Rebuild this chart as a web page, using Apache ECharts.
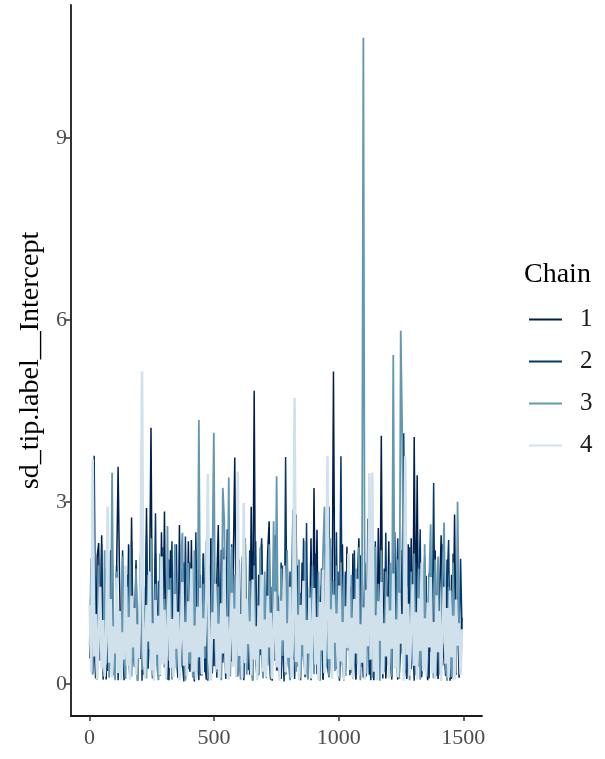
<!DOCTYPE html>
<html>
<head>
<meta charset="utf-8">
<script src="https://cdn.jsdelivr.net/npm/echarts@6/dist/echarts.min.js"></script>
<style>
  html, body { margin: 0; padding: 0; background: #ffffff; }
  #chart { width: 605px; height: 759px; }
</style>
</head>
<body>
<div id="chart"></div>
<script>
// Trace of sd_tip.label__Intercept, four chains, thinned to every 6th draw
const thin = 6;

const chain1 = [
  0.42, 1.9, 0.18, 0.65, 0.09, 2.1, 2.32, 0.55, 2.45, 0.31, 1.5, 0.07, 1.2, 0.46, 2.2, 0.12, 0.9, 0.38, 1.85, 3.58, 1.68, 0.22, 0.75, 0.06, 1.65,
  0.34, 2.3, 0.11, 2.74, 0.6, 0.28, 1.95, 0.05, 0.88, 0.41, 2.05, 0.15, 0.7, 2.9, 0.25, 1.6, 4.22, 0.48, 0.08, 2.15, 0.36, 0.81, 0.13, 2.5, 0.52,
  2.84, 0.3, 1.7, 0.06, 2.2, 0.58, 0.19, 1.8, 0.44, 0.1, 2.62, 0.73, 0.27, 2.0, 0.09, 0.66, 2.35, 0.2, 2.37, 0.5, 0.04, 1.75, 0.33, 2.1, 0.14,
  0.78, 2.15, 0.39, 0.07, 1.9, 0.56, 2.4, 0.17, 0.87, 0.29, 1.7, 2.62, 0.45, 0.1, 2.25, 0.62, 0.23, 2.55, 0.08, 0.8, 0.37, 1.95, 3.73, 0.51, 0.12,
  2.05, 0.43, 0.9, 0.06, 2.4, 0.32, 0.71, 0.15, 2.92, 0.64, 4.83, 0.35, 0.09, 1.8, 0.47, 2.3, 0.11, 0.83, 0.26, 2.15, 2.68, 0.54, 0.05, 1.65, 0.38,
  2.45, 0.21, 0.76, 0.08, 1.95, 0.49, 0.16, 2.2, 0.6, 0.1, 1.6, 0.4, 2.35, 2.79, 0.28, 0.7, 0.06, 2.0, 0.52, 0.14, 1.75, 0.33, 0.86, 2.4, 0.44,
  3.23, 0.72, 2.54, 0.19, 0.9, 1.63, 0.07, 0.58, 2.1, 0.3, 0.11, 2.25, 0.47, 5.15, 0.8, 0.24, 1.85, 0.05, 0.67, 2.3, 0.36, 0.13, 2.26, 0.55, 1.6,
  0.18, 2.15, 0.42, 0.07, 1.7, 2.4, 0.31, 0.69, 0.1, 2.0, 0.48, 1.55, 0.15, 2.3, 0.57, 0.06, 1.8, 0.4, 2.57, 0.83, 4.09, 0.26, 1.9, 0.09, 0.61,
  2.35, 0.34, 0.12, 1.6, 2.5, 0.45, 0.07, 1.9, 0.5, 2.2, 0.2, 0.74, 0.08, 2.3, 0.63, 2.4, 0.37, 4.07, 0.85, 3.44, 0.28, 1.75, 0.11, 0.79, 2.1,
  0.42, 0.06, 1.82, 0.53, 1.65, 0.17, 2.2, 0.39, 0.08, 1.5, 2.45, 0.3, 0.67, 0.13, 2.05, 0.46, 0.05, 1.8, 0.58, 2.79, 0.35, 1.6, 0.1, 0.72, 1.09
];

const chain2 = [
  0.85, 0.3, 2.0, 3.76, 0.52, 0.1, 1.75, 0.38, 2.3, 0.07, 0.74, 1.9, 0.21, 1.5, 0.45, 2.4, 0.14, 0.63, 1.95, 0.06, 0.81, 0.33, 2.2, 0.12, 0.69,
  1.8, 0.4, 0.08, 2.35, 0.55, 0.9, 2.04, 0.18, 0.72, 2.1, 0.05, 1.6, 0.47, 2.45, 0.26, 0.61, 1.85, 0.09, 0.83, 2.81, 0.36, 1.7, 0.15, 0.78, 2.25,
  0.27, 0.66, 0.07, 2.05, 0.49, 2.35, 0.2, 1.5, 2.3, 0.11, 0.57, 1.9, 0.32, 0.04, 2.43, 0.7, 0.24, 2.0, 0.5, 1.55, 0.13, 2.5, 0.41, 0.06, 1.8,
  0.59, 2.15, 0.19, 0.8, 0.05, 1.95, 0.44, 2.4, 0.29, 1.6, 0.1, 1.85, 0.53, 2.21, 0.35, 0.76, 0.08, 2.1, 0.62, 0.17, 2.3, 0.43, 1.5, 0.12, 1.95,
  0.38, 0.71, 1.99, 0.09, 1.75, 0.48, 0.23, 2.2, 0.67, 0.06, 1.55, 2.35, 0.31, 0.14, 1.9, 2.4, 0.56, 0.82, 0.1, 2.1, 0.42, 0.07, 1.6, 0.6, 2.45,
  0.22, 1.45, 0.13, 2.0, 0.51, 0.04, 3.74, 0.64, 0.27, 1.85, 0.39, 2.25, 0.08, 0.77, 1.95, 0.19, 1.5, 0.45, 2.4, 0.11, 2.65, 0.34, 0.73, 0.06, 1.8,
  0.5, 2.15, 0.16, 1.45, 0.3, 1.9, 0.07, 0.68, 2.3, 0.25, 2.92, 0.41, 0.1, 1.7, 0.58, 2.5, 0.2, 0.79, 3.75, 0.33, 0.05, 1.85, 0.62, 2.1, 0.14,
  1.5, 0.4, 2.2, 0.08, 0.75, 1.95, 2.12, 0.28, 0.55, 1.75, 0.12, 2.72, 0.46, 0.06, 2.05, 0.7, 2.35, 0.21, 1.55, 0.37, 1.9, 0.09, 0.65, 2.49, 0.31,
  1.8, 0.52, 0.07, 2.15, 0.35, 1.4, 2.4, 0.15, 0.6, 1.95, 4.13, 0.43, 0.1, 1.6, 2.25, 0.24, 0.71, 0.05, 2.0, 0.47, 1.45, 2.55, 0.18, 0.57, 1.7,
  1.78, 0.32, 0.09, 1.9, 0.66, 3.31, 0.4, 0.13, 2.05, 0.55, 0.06, 2.3, 0.8, 0.22, 1.65, 2.37, 0.36, 0.08, 2.15, 0.69, 0.15, 1.8, 0.44, 2.06, 0.87
];

const chain3 = [
  0.62, 2.07, 0.15, 1.7, 0.4, 0.07, 1.95, 0.53, 0.88, 0.2, 2.2, 0.32, 2.32, 0.1, 0.74, 3.48, 0.45, 0.06, 1.85, 0.6, 0.95, 0.17, 2.1, 0.36, 0.08,
  1.6, 0.49, 2.25, 0.12, 0.81, 0.29, 1.9, 0.05, 0.7, 2.15, 0.23, 0.92, 0.41, 0.09, 1.8, 0.57, 2.4, 0.14, 0.66, 1.65, 0.3, 0.06, 2.15, 0.42, 0.5,
  1.4, 0.18, 2.6, 0.38, 1.75, 0.07, 0.79, 2.3, 0.26, 0.97, 0.11, 1.95, 2.49, 0.44, 0.05, 1.7, 1.99, 0.33, 0.72, 0.1, 2.2, 0.56, 0.2, 4.35, 0.64,
  0.13, 1.65, 0.42, 2.35, 0.08, 0.89, 0.31, 1.9, 4.14, 0.6, 0.19, 1.6, 0.47, 0.06, 3.23, 2.7, 0.35, 0.82, 3.4, 0.12, 2.26, 0.54, 1.8, 0.25, 0.9,
  0.33, 0.07, 2.1, 0.39, 2.4, 0.15, 0.68, 1.7, 0.28, 0.05, 1.95, 0.61, 0.94, 0.17, 2.25, 0.43, 0.09, 1.85, 0.73, 0.3, 2.3, 0.11, 0.85, 2.68, 0.4,
  3.42, 0.58, 0.08, 1.9, 0.46, 1.5, 0.14, 2.2, 0.34, 0.06, 1.75, 2.87, 0.52, 0.2, 0.77, 2.05, 0.1, 0.93, 0.37, 2.35, 0.24, 0.07, 1.6, 0.63, 1.95,
  0.16, 0.87, 0.44, 1.85, 0.05, 0.7, 2.15, 2.92, 0.29, 0.96, 0.12, 2.4, 0.55, 1.7, 0.21, 1.95, 0.38, 0.08, 2.0, 0.67, 1.8, 0.13, 0.81, 1.95, 0.43,
  1.8, 0.09, 0.75, 1.9, 0.32, 2.25, 0.06, 0.91, 10.65, 0.48, 0.17, 1.75, 0.39, 2.1, 0.1, 0.84, 2.26, 0.27, 1.65, 0.05, 2.2, 0.53, 0.19, 1.85, 0.6,
  0.41, 2.0, 0.12, 5.42, 0.66, 0.3, 2.05, 0.08, 5.82, 4.1, 0.97, 0.22, 1.6, 0.5, 0.06, 1.85, 0.34, 2.15, 0.14, 0.78, 1.9, 0.07, 0.9, 0.45, 2.3,
  0.2, 0.72, 1.7, 2.63, 0.35, 0.09, 2.05, 0.57, 2.1, 0.15, 0.83, 1.9, 2.66, 0.28, 0.05, 1.6, 0.46, 0.11, 2.0, 0.62, 0.18, 3.0, 0.95, 0.4, 0.76
];

const chain4 = [
  1.3, 0.2, 3.7, 0.45, 1.15, 0.08, 0.9, 1.6, 0.25, 1.05, 0.12, 0.7, 2.92, 0.35, 1.4, 0.1, 0.95, 0.5, 1.75, 0.18, 1.2, 0.06, 0.85, 0.4, 1.95,
  0.3, 1.1, 0.07, 1.45, 0.6, 1.25, 0.15, 0.98, 0.42, 1.62, 5.15, 0.55, 0.09, 1.3, 0.7, 1.85, 0.22, 1.0, 0.05, 1.38, 0.48, 1.12, 0.14, 2.1, 0.33,
  1.22, 0.08, 0.92, 1.55, 0.26, 1.07, 0.11, 1.48, 0.58, 1.19, 0.06, 0.8, 1.68, 0.3, 1.02, 0.13, 1.36, 0.52, 1.9, 0.2, 0.96, 0.07, 1.27, 0.44, 1.58,
  0.16, 1.08, 0.62, 1.42, 3.46, 0.38, 0.05, 1.18, 0.74, 1.65, 0.24, 0.99, 0.1, 1.33, 0.5, 2.05, 0.17, 1.11, 0.07, 0.88, 1.5, 0.28, 1.24, 0.12, 3.5,
  0.46, 1.15, 0.09, 2.98, 0.34, 1.4, 0.66, 1.03, 0.14, 1.72, 0.4, 0.95, 0.06, 1.29, 0.57, 1.8, 0.2, 1.06, 0.11, 1.45, 0.6, 1.17, 0.08, 0.9, 1.52,
  0.27, 1.2, 0.05, 1.37, 0.72, 1.95, 0.19, 1.0, 0.43, 1.6, 0.1, 0.85, 4.71, 0.36, 1.14, 0.07, 1.3, 0.64, 1.7, 0.15, 1.05, 0.5, 1.42, 0.09, 0.97,
  1.58, 0.32, 1.1, 0.06, 1.35, 0.55, 1.88, 0.18, 0.93, 3.76, 0.41, 1.23, 0.08, 1.47, 0.68, 1.16, 0.12, 1.62, 0.37, 1.02, 0.05, 1.28, 0.59, 2.15, 0.23,
  1.09, 0.1, 1.4, 0.5, 1.73, 0.14, 0.98, 0.35, 1.26, 0.07, 1.55, 0.62, 3.47, 0.4, 3.48, 0.2, 1.13, 0.06, 1.36, 0.71, 1.68, 0.16, 1.0, 0.45, 1.44,
  0.09, 1.21, 0.58, 1.82, 0.25, 1.06, 0.11, 1.5, 0.66, 1.15, 0.05, 3.75, 0.48, 1.32, 0.13, 0.94, 1.64, 0.3, 1.18, 0.07, 1.41, 0.54, 2.0, 0.21, 1.08,
  0.12, 1.34, 0.6, 1.76, 0.17, 1.02, 0.08, 1.46, 0.52, 1.2, 0.06, 0.97, 1.6, 0.33, 1.25, 0.1, 1.54, 0.44, 1.12, 0.07, 1.39, 0.63, 1.0, 0.15, 0.9
];

const chainNames = ['1', '2', '3', '4'];
const chainColors = ['#011f4b', '#03396c', '#6497b1', '#d1e1ec'];
const chainWidths = [1.5, 1.5, 1.8, 2.6];
const xTicks = [0, 500, 1000, 1500];
const yTicks = [0, 3, 6, 9];

const chains = [chain1, chain2, chain3, chain4];
const serif = 'Liberation Serif, Times New Roman, serif';

const series = chains.map((vals, c) => ({
  name: chainNames[c],
  type: 'line',
  data: vals.map((v, k) => [1 + thin * k, v]),
  showSymbol: false,
  symbol: 'none',
  lineStyle: { color: chainColors[c], width: chainWidths[c] },
  itemStyle: { color: chainColors[c] },
  emphasis: { disabled: true },
  animation: false,
  z: 2 + c
}));

const chart = echarts.init(document.getElementById('chart'), null, { renderer: 'canvas' });
chart.setOption({
  backgroundColor: '#ffffff',
  animation: false,
  grid: { left: 71, right: 123, top: 5, bottom: 43, containLabel: false },
  xAxis: {
    type: 'value',
    min: -74,
    max: 1575,
    axisLine: { show: true, onZero: false, lineStyle: { color: '#1a1a1a', width: 1.8 } },
    axisTick: { show: true, customValues: xTicks, length: 5, lineStyle: { color: '#333333', width: 1.5 } },
    axisLabel: {
      customValues: xTicks, margin: 11, color: '#4d4d4d', fontSize: 22, fontFamily: serif,
      formatter: (v) => String(v)
    },
    splitLine: { show: false }
  },
  yAxis: {
    type: 'value',
    min: -0.53,
    max: 11.19,
    name: 'sd_tip.label__Intercept',
    nameLocation: 'middle',
    nameGap: 25,
    nameTextStyle: { color: '#000000', fontSize: 28, fontFamily: serif },
    axisLine: { show: true, onZero: false, lineStyle: { color: '#1a1a1a', width: 1.8 } },
    axisTick: { show: true, customValues: yTicks, length: 5, lineStyle: { color: '#333333', width: 1.5 } },
    axisLabel: {
      customValues: yTicks, margin: 4, color: '#4d4d4d', fontSize: 22, fontFamily: serif,
      formatter: (v) => String(v)
    },
    splitLine: { show: false }
  },
  legend: {
    orient: 'vertical',
    left: 524,
    top: 302,
    icon: 'rect',
    itemWidth: 33,
    itemHeight: 2,
    itemGap: 17,
    data: chainNames,
    textStyle: { color: '#1a1a1a', fontSize: 25, fontFamily: serif, lineHeight: 24, padding: [0, 0, 0, 13] },
    selectedMode: false
  },
  graphic: [{
    type: 'text',
    left: 524,
    top: 261,
    style: { text: 'Chain', fill: '#000000', font: '28px ' + serif }
  }],
  series: series
});
</script>
</body>
</html>
